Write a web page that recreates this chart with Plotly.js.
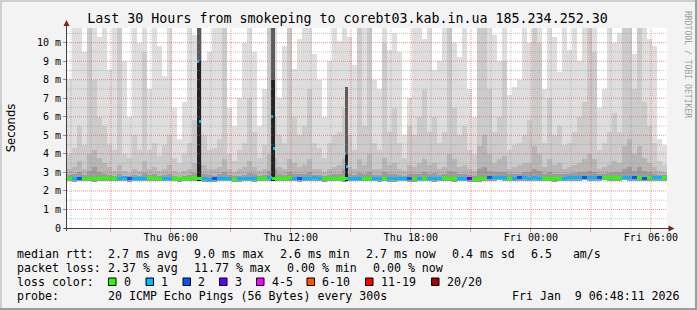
<!DOCTYPE html>
<html><head><meta charset="utf-8">
<script src="https://cdn.plot.ly/plotly-3.0.1.min.js"></script>
<style>html,body{margin:0;padding:0;background:#F3F3F3;}#chart{width:697px;height:310px;}</style>
</head><body><div id="chart"></div>
<script>
// ---------- time frame ----------
const START = '2026-01-08 00:48:11';
const END = '2026-01-09 06:48:11';
const STEP_MIN = 15;   // one column = 15 minutes

// ---------- data (ms), one value per 15-min column ----------
const smokeLo = [2.52,2.50,2.51,2.53,2.52,2.50,2.52,2.54,2.51,2.52,
 2.53,2.51,2.50,2.52,2.53,2.51,2.52,2.54,2.52,2.51,
 2.53,2.52,2.50,2.51,2.52,2.53,2.52,2.50,2.49,2.50,
 2.52,2.53,2.51,2.49,2.50,2.52,2.51,2.50,2.51,2.52,
 2.54,2.53,2.51,2.52,2.54,2.52,2.50,2.51,2.53,2.54,
 2.52,2.50,2.51,2.53,2.52,2.50,2.51,2.53,2.52,2.51,
 2.53,2.52,2.50,2.51,2.50,2.49,2.51,2.52,2.50,2.49,
 2.51,2.53,2.52,2.50,2.51,2.54,2.52,2.50,2.51,2.53,
 2.50,2.48,2.49,2.51,2.54,2.56,2.57,2.55,2.52,2.53,
 2.54,2.55,2.53,2.54,2.52,2.51,2.52,2.50,2.51,2.53,
 2.55,2.54,2.56,2.57,2.55,2.54,2.56,2.58,2.56,2.54,
 2.55,2.57,2.56,2.54,2.55,2.53,2.54,2.56,2.54,2.55];
const smokeL1 = [8.0,11,11,9.5,11,11,10.3,11,8.5,11,
 11,9.0,6.0,11,10.0,11,7.5,11,9.8,8.2,
 11,6.5,4.8,6.8,11,10.4,11,9.0,9.5,11,
 11,11,6.5,5.5,7.0,10.0,11,9.5,5.5,7.5,
 11,11,7.0,9.8,11,8.6,10.2,11,11,9.4,
 8.0,6.0,9.0,11,10.1,11,10.3,8.8,11,11,
 11,8.0,7.5,11,9.6,10.5,9.5,5.0,7.0,11,
 11,10.2,11,8.5,9.0,11,11,10.0,9.2,11,
 7.5,6.0,11,11,11,10.4,9.0,11,7.2,7.6,
 8.0,11,10.0,11,11,7.5,11,10.3,8.4,11,
 9.6,11,9.0,11,11,11,6.5,7.5,11,10.0,
 10.5,11,11,9.4,11,11,10.2,9.8,4.8,4.5];
const smokeL2 = [4.0,4.3,5.5,4.5,11,8.0,6.0,5.5,4.5,4.2,
 11,4.0,3.8,5.0,4.2,9.5,4.2,4.6,3.9,4.5,
 5.0,3.8,3.5,4.0,4.6,5.8,11,5.0,4.2,4.3,
 4.8,11,4.0,3.6,4.2,4.6,7.0,5.2,3.8,4.5,
 11,6.0,5.0,4.6,11,6.0,5.0,5.5,7.5,4.6,
 4.3,3.8,4.6,5.0,5.2,6.5,5.0,4.2,11,5.5,
 11,4.6,4.2,10.0,5.2,6.5,4.6,3.8,5.5,5.0,
 6.0,7.5,5.2,6.0,4.6,5.2,11,6.5,5.0,5.5,
 4.2,4.0,11,11,7.5,5.2,6.0,9.0,4.2,4.5,
 4.6,5.0,5.8,11,10.0,4.6,7.0,5.0,5.5,4.5,
 4.6,5.2,6.0,6.8,11,9.5,4.2,4.6,5.2,6.2,
 5.2,11,11,7.5,11,6.8,5.5,4.6,3.6,3.4];
const smokeL3 = [3.2,3.3,3.6,3.2,4.0,4.2,3.8,3.5,3.3,3.1,
 3.4,3.1,2.95,3.2,3.1,3.6,3.2,3.3,3.1,3.2,
 3.4,3.1,2.95,3.1,3.2,3.5,5.0,3.4,3.2,3.2,
 3.3,3.7,3.2,3.0,3.2,3.3,3.6,3.3,3.1,3.2,
 4.0,3.8,3.3,3.2,3.7,3.5,3.3,3.4,3.7,3.2,
 3.2,3.0,3.2,3.3,3.4,3.7,3.3,3.2,3.7,3.4,
 4.0,3.2,3.2,3.8,3.4,3.5,3.2,3.1,3.4,3.3,
 3.5,3.7,3.4,3.5,3.2,3.3,4.0,3.7,3.3,3.4,
 3.2,3.1,4.4,5.0,4.0,3.5,3.7,3.9,3.2,3.3,
 3.4,3.5,3.5,4.4,4.0,3.3,3.7,3.4,3.5,3.2,
 3.3,3.4,3.5,3.7,4.0,3.7,3.2,3.3,3.4,3.6,
 3.5,4.4,4.8,4.0,4.4,3.8,3.5,3.3,3.1,3.0];
const smokeL4 = [2.85,2.9,3.0,2.85,3.1,3.3,3.0,2.9,2.85,2.8,
 2.9,2.8,2.78,2.85,2.8,2.95,2.85,2.9,2.8,2.85,
 2.9,2.8,2.76,2.8,2.85,2.95,3.4,2.9,2.85,2.8,
 2.9,3.0,2.85,2.78,2.8,2.85,2.95,2.9,2.8,2.85,
 3.1,3.2,2.9,2.85,3.0,2.9,2.9,2.9,3.0,2.85,
 2.85,2.78,2.85,2.9,2.9,3.2,2.9,2.85,2.95,2.9,
 3.0,2.85,2.85,3.0,2.9,2.9,2.85,2.8,2.9,2.9,
 2.9,3.0,2.9,2.95,2.85,2.9,3.1,3.0,2.9,2.9,
 2.85,2.8,3.2,3.3,3.1,3.0,3.0,3.0,2.9,2.9,
 2.9,3.0,3.0,3.2,3.1,2.9,3.0,2.9,2.9,2.9,
 2.9,2.95,3.0,3.0,3.1,3.0,2.9,2.9,2.95,3.0,
 3.0,3.2,3.3,3.1,3.3,3.1,3.0,2.9,2.85,2.85];
const medianRtt = [2.66,2.68,2.65,2.67,2.69,2.66,2.68,2.70,2.67,2.66,
 2.68,2.70,2.66,2.67,2.69,2.68,2.70,2.68,2.66,2.67,
 2.69,2.68,2.66,2.67,2.68,2.70,2.69,2.66,2.64,2.65,
 2.67,2.68,2.66,2.64,2.66,2.68,2.67,2.65,2.66,2.68,
 2.70,2.69,2.67,2.68,2.70,2.68,2.66,2.67,2.69,2.70,
 2.68,2.66,2.67,2.69,2.68,2.66,2.67,2.69,2.68,2.67,
 2.69,2.68,2.66,2.67,2.66,2.65,2.67,2.68,2.66,2.65,
 2.67,2.69,2.68,2.66,2.67,2.70,2.68,2.66,2.67,2.69,
 2.66,2.64,2.65,2.67,2.70,2.72,2.73,2.71,2.68,2.69,
 2.70,2.71,2.69,2.70,2.68,2.67,2.68,2.66,2.67,2.69,
 2.71,2.70,2.72,2.73,2.71,2.70,2.72,2.74,2.72,2.70,
 2.71,2.73,2.72,2.70,2.71,2.69,2.70,2.72,2.70,2.71];
const lossCount = [0,1,2,0,0,0,0,0,0,0,
 1,1,2,1,1,1,0,0,0,1,
 1,0,0,0,0,0,0,1,1,2,
 1,1,1,0,1,1,1,1,0,0,
 1,0,0,0,0,1,2,1,1,1,
 1,0,0,0,0,0,1,1,1,0,
 0,1,1,0,1,1,1,1,2,0,
 1,0,1,1,1,0,0,0,1,1,
 3,0,0,0,2,1,1,1,0,1,
 2,1,1,1,1,0,0,0,0,1,
 1,1,1,2,1,1,2,0,0,0,
 0,1,1,2,0,2,0,1,1,0];

// ---------- short latency spikes (5-min steps) ----------
const spikeTime = ['2026-01-08 07:22','2026-01-08 07:27','2026-01-08 11:04','2026-01-08 11:09','2026-01-08 14:44','2026-01-08 14:49'];
const spikeHi = [11, 11, 11, 11, 7.6, 7.6];
const spikeMid = [9.0, 9.0, 8.0, 8.0, 4.0, 4.0];
const spikeMedian = [9.0, 5.75, 6.0, 4.3, 4.0, 3.3];
const spikeLoss = [1, 1, 1, 1, 1, 1];

// ---------- axis labels ----------
const xTickTimes = ['2026-01-08 03:00','2026-01-08 06:00','2026-01-08 09:00','2026-01-08 12:00','2026-01-08 15:00','2026-01-08 18:00','2026-01-08 21:00','2026-01-09 00:00','2026-01-09 03:00','2026-01-09 06:00'];
const xTickText = ['','Thu 06:00','','Thu 12:00','','Thu 18:00','','Fri 00:00','','Fri 06:00'];
const yTickVals = [0,1,2,3,4,5,6,7,8,9,10];
const yTickText = ['0','1 m','2 m','3 m','4 m','5 m','6 m','7 m','8 m','9 m','10 m'];

// ---------- legend ----------
const lossLabels = ['0','1','2','3','4-5','6-10','11-19','20/20'];
const lossColors = ['#26ff00','#00b8ff','#0059ff','#5e00ff','#ff00ff','#ff5500','#ff0000','#a00000'];
const statLines = [
  ['median rtt:','2.7 ms avg','9.0 ms max','2.6 ms min','2.7 ms now','0.4 ms sd','6.5   am/s'],
  ['packet loss:','2.37 % avg','11.77 % max','0.00 % min','0.00 % now'],
  ['loss color:'],
  ['probe:','20 ICMP Echo Pings (56 Bytes) every 300s']
];
const dateStamp = 'Fri Jan  9 06:48:11 2026';

// ---------- helpers ----------
function toMs(s){const [d,t]=s.split(' ');const [Y,M,D]=d.split('-').map(Number);const [h,m,sec]=(t+':0').split(':').map(Number);return Date.UTC(Y,M-1,D,h,m,sec||0);}
function fmt(ms){return new Date(ms).toISOString().slice(0,19).replace('T',' ');}
const startMs = toMs(START);
const colX = smokeLo.map((_,k)=>fmt(startMs + (k*STEP_MIN + STEP_MIN/2)*60000));
const colW = STEP_MIN*60000;
const PX = px => (px-67)/600;
const PY = py => (228-py)/200;
const BAND = 0.08;

function smokeTrace(top, color){
  return {type:'bar', x:colX, base:smokeLo, y:top.map((v,i)=>v-smokeLo[i]), width:colW,
    marker:{color:color, line:{width:0}}, hoverinfo:'skip'};
}
const traces = [
  smokeTrace(smokeL1,'#DEDEDE'),
  smokeTrace(smokeL2,'#CBCBCB'),
  smokeTrace(smokeL3,'#B6B6B6'),
  smokeTrace(smokeL4,'#9C9C9C'),
  {type:'bar', x:spikeTime, base:spikeMedian.map(()=>2.55), y:spikeHi.map(v=>v-2.55), width:300000, marker:{color:'#5A5A5A',line:{width:0}}, hoverinfo:'skip'},
  {type:'bar', x:spikeTime, base:spikeMedian.map(()=>2.55), y:spikeMid.map(v=>v-2.55), width:300000, marker:{color:'#222222',line:{width:0}}, hoverinfo:'skip'},
  {type:'bar', x:colX, base:medianRtt.map(v=>v-BAND), y:medianRtt.map(()=>2*BAND), width:colW,
    marker:{color:lossCount.map(l=>lossColors[l]), line:{width:0}}, hoverinfo:'skip'},
  {type:'bar', x:spikeTime, base:spikeMedian.map(v=>v-BAND), y:spikeMedian.map(()=>2*BAND), width:300000,
    marker:{color:spikeLoss.map(l=>lossColors[l]), line:{width:0}}, hoverinfo:'skip'}
];

// ---------- grid (drawn above the smoke like rrdtool) ----------
const shapes = [];
const MGRID = 'rgba(222,80,80,0.6)', GRID = 'rgba(143,143,143,0.5)';
for(let h=1; h<=30; h++){
  const t = fmt(toMs('2026-01-08 00:00') + h*3600000);
  shapes.push({type:'line', xref:'x', yref:'paper', x0:t, x1:t, y0:0, y1:1, layer:'above',
    line:{color: h%3===0 ? MGRID : GRID, width:1, dash:'1px,1px'}});
}
for(let v=0.5; v<=10.51; v+=0.5){
  const major = Math.abs(v-Math.round(v))<1e-6;
  shapes.push({type:'line', xref:'paper', yref:'y', x0:0, x1:1, y0:v, y1:v, layer:'above',
    line:{color: major ? MGRID : GRID, width:1, dash:'1px,1px'}});
}
// axes and arrows
shapes.push({type:'line', xref:'paper', yref:'paper', x0:PX(66.5), x1:PX(66.5), y0:PY(231), y1:PY(24), line:{color:'#404040', width:1}, layer:'above'});
shapes.push({type:'line', xref:'paper', yref:'paper', x0:PX(64), x1:PX(669), y0:PY(228.5), y1:PY(228.5), line:{color:'#404040', width:1}, layer:'above'});
shapes.push({type:'path', xref:'paper', yref:'paper', path:`M${PX(66.5)},${PY(20)} L${PX(63.5)},${PY(26)} L${PX(69.5)},${PY(26)} Z`, fillcolor:'#7F1F1F', line:{width:0}, layer:'above'});
shapes.push({type:'path', xref:'paper', yref:'paper', path:`M${PX(674.5)},${PY(228.5)} L${PX(668.5)},${PY(225.5)} L${PX(668.5)},${PY(231.5)} Z`, fillcolor:'#7F1F1F', line:{width:0}, layer:'above'});
// 3D frame
shapes.push({type:'rect', xref:'paper', yref:'paper', x0:PX(0), x1:PX(697), y0:PY(0), y1:PY(2), fillcolor:'#CFCFCF', line:{width:0}});
shapes.push({type:'rect', xref:'paper', yref:'paper', x0:PX(0), x1:PX(2), y0:PY(0), y1:PY(310), fillcolor:'#CFCFCF', line:{width:0}});
shapes.push({type:'rect', xref:'paper', yref:'paper', x0:PX(0), x1:PX(697), y0:PY(308), y1:PY(310), fillcolor:'#9E9E9E', line:{width:0}});
shapes.push({type:'rect', xref:'paper', yref:'paper', x0:PX(695), x1:PX(697), y0:PY(0), y1:PY(310), fillcolor:'#9E9E9E', line:{width:0}});

// legend boxes
const boxLeft = [108.5,146,183,219.5,256.5,307,365.5,431.5];
lossColors.forEach((c,i)=>{
  shapes.push({type:'rect', xref:'paper', yref:'paper', x0:PX(boxLeft[i]), x1:PX(boxLeft[i]+7.5), y0:PY(278), y1:PY(285.5), fillcolor:c, line:{color:'#000', width:1}});
});

// ---------- annotations ----------
const MONO = 'DejaVu Sans Mono';
const CHAR_W = 6.97, ITEM_GAP = 16.3, COL2 = 107.3;
const lineY = [254, 268, 282, 296];
const annotations = [];
statLines.forEach((items,li)=>{
  let px = 16;
  items.forEach((txt,ii)=>{
    if(ii===1) px = COL2;
    annotations.push({xref:'paper', yref:'paper', x:PX(px), y:PY(lineY[li]), xanchor:'left', yanchor:'middle',
      text:txt.replace(/ /g,'&nbsp;'), showarrow:false, borderpad:0, font:{family:MONO, size:11.6, color:'#000'}});
    px += txt.length*CHAR_W + ITEM_GAP;
  });
});
lossLabels.forEach((lab,i)=>{
  annotations.push({xref:'paper', yref:'paper', x:PX(boxLeft[i]+14.3), y:PY(lineY[2]), xanchor:'left', yanchor:'middle',
    text:lab, showarrow:false, borderpad:0, font:{family:MONO, size:11.6, color:'#000'}});
});
annotations.push({xref:'paper', yref:'paper', x:PX(680.5), y:PY(lineY[3]), xanchor:'right', yanchor:'middle',
  text:dateStamp.replace(/ /g,'&nbsp;'), showarrow:false, borderpad:0, font:{family:MONO, size:11.6, color:'#000'}});
annotations.push({xref:'paper', yref:'paper', x:PX(688), y:PY(64), xanchor:'center', yanchor:'middle', textangle:90,
  text:'RRDTOOL / TOBI OETIKER', showarrow:false, borderpad:0, font:{family:MONO, size:8.1, color:'#9E9E9E'}});

const layout = {
  width:697, height:310,
  margin:{l:67, r:30, t:28, b:82, pad:0},
  paper_bgcolor:'#F3F3F3', plot_bgcolor:'#FFFFFF',
  showlegend:false, barmode:'overlay', bargap:0, hovermode:false,
  font:{family:MONO, size:10, color:'#000'},
  title:{text:'Last 30 Hours from smokeping to corebt03.kab.in.ua 185.234.252.30',
    font:{family:MONO, size:13.3, color:'#000'}, xref:'container', x:347.5/697, xanchor:'center',
    yref:'container', y:1-18/310, yanchor:'middle'},
  xaxis:{type:'date', range:[START, END], tickmode:'array', tickvals:xTickTimes, ticktext:xTickText,
    ticks:'outside', ticklen:3, tickcolor:MGRID, showgrid:false, zeroline:false, showline:false,
    ticklabelstandoff:-3,
    tickfont:{family:MONO, size:10, color:'#000'}, fixedrange:true},
  yaxis:{range:[0, 10.79], tickmode:'array', tickvals:yTickVals, ticktext:yTickText,
    ticks:'outside', ticklen:3, tickcolor:'#909090', showgrid:false, zeroline:false, showline:false,
    tickfont:{family:MONO, size:10, color:'#000'}, fixedrange:true,
    title:{text:'Seconds', font:{family:'DejaVu Sans', size:11.6, color:'#000'}, standoff:18}},
  shapes:shapes, annotations:annotations
};
Plotly.newPlot('chart', traces, layout, {staticPlot:true, displayModeBar:false});
</script></body></html>
